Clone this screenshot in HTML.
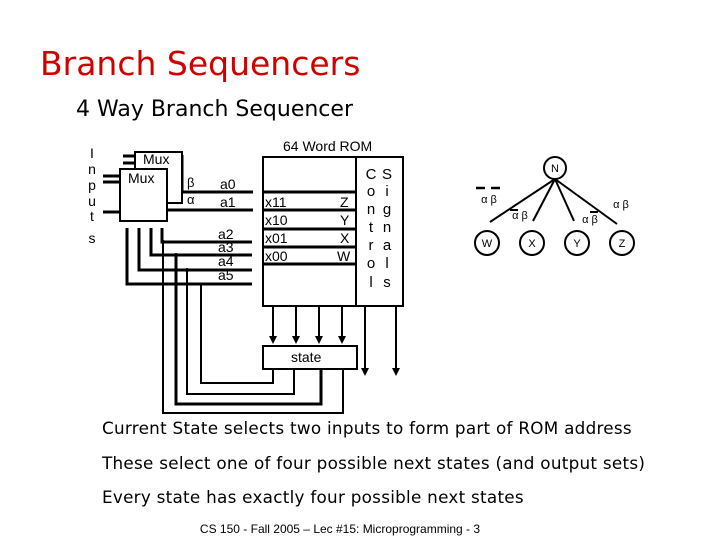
<!DOCTYPE html>
<html><head><style>body{margin:0;background:#fff}svg{display:block}</style></head><body>
<svg width="720" height="540" xmlns="http://www.w3.org/2000/svg" font-family="Liberation Sans, sans-serif">
<rect width="720" height="540" fill="#fff"/>
<text x="40" y="75" font-size="33" fill="#d00000" font-family="DejaVu Sans, sans-serif">Branch Sequencers</text>
<text x="76" y="116" font-size="22" font-family="DejaVu Sans, sans-serif">4 Way Branch Sequencer</text>
<g font-size="14" text-anchor="middle">
<text x="92" y="158">I</text><text x="92" y="174">n</text><text x="92" y="190">p</text><text x="92" y="206">u</text><text x="92" y="221">t</text><text x="92" y="243">s</text>
</g>
<g stroke="#000" fill="none">
<g stroke-width="3">
<line x1="123" y1="156" x2="135" y2="156"/><line x1="123" y1="163" x2="135" y2="163"/>
<line x1="103" y1="176" x2="120" y2="176"/><line x1="103" y1="182" x2="120" y2="182"/><line x1="103" y1="212" x2="120" y2="212"/>
<polyline points="182,155 182,192 253,192"/>
<polyline points="167,202 182,202"/>
<line x1="167" y1="210" x2="253" y2="210"/>
<polyline points="127,228 127,284 252,284"/>
<line x1="263" y1="192" x2="356" y2="192"/><line x1="263" y1="210" x2="356" y2="210"/>
<line x1="263" y1="229" x2="356" y2="229"/><line x1="263" y1="247" x2="356" y2="247"/>
<line x1="263" y1="264" x2="356" y2="264"/>
<polyline points="176,255 176,404 321,404 321,369"/>
<polyline points="162,228 162,242 252,242"/>
<polyline points="151,228 151,255 252,255"/>
<polyline points="139,228 139,270 252,270"/>
</g>
<g stroke-width="2">
<rect x="135" y="152" width="47" height="51" fill="#fff"/>
<rect x="120" y="169" width="47" height="52" fill="#fff"/>
<polyline points="201,284 201,383 273,383 273,369"/>
<polyline points="187,270 187,394 294,394 294,369"/>
<polyline points="163,242 163,413 343,413 343,369"/>
<rect x="263" y="157" width="140" height="149"/>
<line x1="356" y1="157" x2="356" y2="306"/>
<rect x="263" y="346" width="94" height="23"/>
<line x1="273" y1="306" x2="273" y2="336"/><line x1="296" y1="306" x2="296" y2="336"/>
<line x1="319" y1="306" x2="319" y2="336"/><line x1="342" y1="306" x2="342" y2="336"/>
<line x1="365" y1="306" x2="365" y2="368"/><line x1="396" y1="306" x2="396" y2="368"/>
<line x1="555" y1="179" x2="490" y2="222"/><line x1="555" y1="179" x2="533" y2="221"/>
<line x1="555" y1="179" x2="574" y2="221"/><line x1="555" y1="179" x2="617" y2="224"/>
<circle cx="555" cy="168" r="11" fill="#fff"/>
<circle cx="487" cy="243" r="12"/><circle cx="532" cy="243" r="12"/>
<circle cx="577" cy="243" r="12"/><circle cx="622" cy="243" r="12"/>
<line x1="476" y1="188" x2="485" y2="188" stroke-width="2.5"/><line x1="491" y1="188" x2="500" y2="188" stroke-width="2.5"/>
<line x1="510" y1="210" x2="518" y2="210"/>
<line x1="590" y1="212" x2="598" y2="212"/>
</g>
</g>
<g fill="#000">
<circle cx="163" cy="242" r="2"/><circle cx="176" cy="255" r="2"/><circle cx="187" cy="270" r="2"/>
<polygon points="269,336 277,336 273,344"/><polygon points="292,336 300,336 296,344"/>
<polygon points="315,336 323,336 319,344"/><polygon points="338,336 346,336 342,344"/>
<polygon points="361,368 369,368 365,376"/><polygon points="392,368 400,368 396,376"/>
</g>
<g font-size="14">
<text x="143" y="164">Mux</text><text x="128" y="183">Mux</text>
<text x="187" y="187" font-size="13">β</text><text x="187" y="204" font-size="13">α</text>
<text x="220" y="189">a0</text><text x="220" y="207">a1</text>
<text x="218" y="239">a2</text><text x="218" y="252">a3</text><text x="218" y="266">a4</text><text x="218" y="280">a5</text>
<text x="283" y="151">64 Word ROM</text>
<text x="265" y="207">x11</text><text x="265" y="225">x10</text><text x="265" y="243">x01</text><text x="265" y="261">x00</text>
<text x="340" y="207">Z</text><text x="340" y="225">Y</text><text x="340" y="243">X</text><text x="337" y="261">W</text>
<text x="291" y="362">state</text>
</g>
<g font-size="15" text-anchor="middle">
<text x="371" y="179">C</text><text x="371" y="196">o</text><text x="371" y="214">n</text><text x="371" y="232">t</text><text x="371" y="250">r</text><text x="371" y="268">o</text><text x="371" y="287">l</text>
<text x="387" y="179">S</text><text x="387" y="196">i</text><text x="387" y="214">g</text><text x="387" y="232">n</text><text x="387" y="250">a</text><text x="387" y="268">l</text><text x="387" y="287">s</text>
</g>
<g font-size="11" text-anchor="middle">
<text x="555" y="172">N</text><text x="487" y="247">W</text><text x="532" y="247">X</text><text x="577" y="247">Y</text><text x="622" y="247">Z</text>
<text x="489" y="203">α β</text><text x="520" y="219">α β</text><text x="590" y="223">α β</text><text x="621" y="208">α β</text>
</g>
<g font-size="16.8" font-family="DejaVu Sans, sans-serif" letter-spacing="0.27">
<text x="102" y="434">Current State selects two inputs to form part of ROM address</text>
<text x="102" y="469">These select one of four possible next states (and output sets)</text>
<text x="102" y="503">Every state has exactly four possible next states</text>
</g>
<text x="340" y="533" font-size="12" text-anchor="middle">CS 150 - Fall 2005 – Lec #15: Microprogramming - 3</text>
</svg>
</body></html>
